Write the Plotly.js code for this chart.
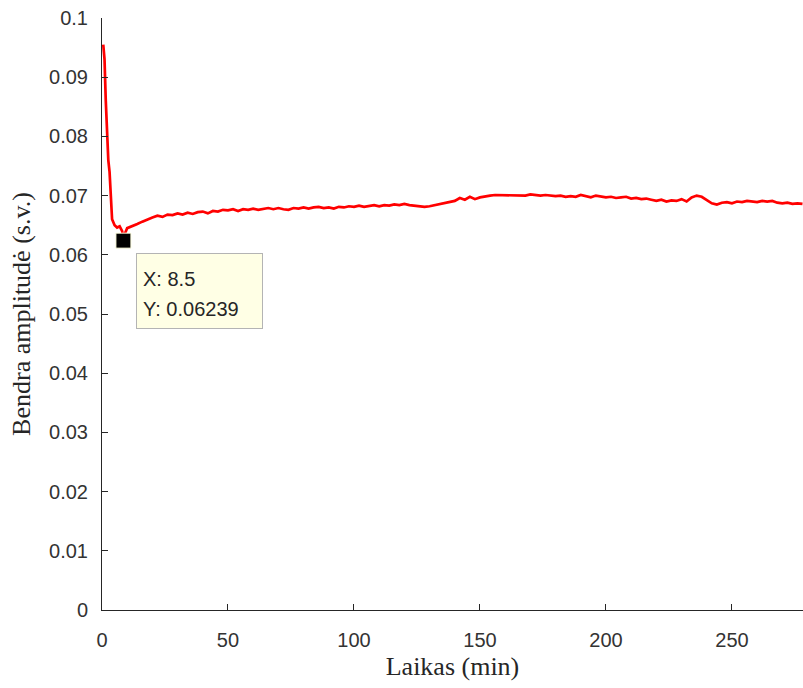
<!DOCTYPE html>
<html>
<head>
<meta charset="utf-8">
<script src="https://cdn.plot.ly/plotly-3.0.1.min.js"></script>
<style>html,body{margin:0;padding:0;background:#fff;}#chart{width:803px;height:688px;}</style>
</head>
<body>
<div id="chart"></div>
<script>
const timeMin = [0.5,1,1.5,2,2.5,3,3.5,4,5,6,7,8,8.5,9,10,12,14,16,18,20,22,24,26,28,30,32,34,36,38,40,42,44,46,48,50,52,54,56,58,60,62,64,66,68,70,72,74,76,78,80,82,84,86,88,90,92,94,96,98,100,102,104,106,108,110,112,114,116,118,120,122,124,126,128,130,132,134,136,138,140,142,144,146,148,150,152,154,156,158,160,162,164,166,168,170,172,174,176,178,180,182,184,186,188,190,192,194,196,198,200,202,204,206,208,210,212,214,216,218,220,222,224,226,228,230,232,234,236,238,240,242,244,246,248,250,252,254,256,258,260,262,264,266,268,270,272,274,276,278];
const amplitude = [0.0955,0.0930,0.0860,0.0800,0.0760,0.0740,0.0700,0.0660,0.0650,0.0646,0.0648,0.0640,0.06239,0.0635,0.0645,0.0648,0.0652,0.0656,0.0660,0.0663,0.0666,0.0664,0.0668,0.0667,0.0670,0.0668,0.0671,0.0669,0.0672,0.0673,0.0670,0.0674,0.0673,0.0676,0.0675,0.0677,0.0674,0.0677,0.0676,0.0678,0.0676,0.0678,0.0679,0.0677,0.0679,0.0677,0.0676,0.0679,0.0678,0.0680,0.0678,0.0680,0.0681,0.0679,0.0680,0.0678,0.0681,0.0680,0.0682,0.0681,0.0683,0.0681,0.0682,0.0684,0.0682,0.0684,0.0683,0.0685,0.0684,0.0686,0.0684,0.0683,0.0682,0.0681,0.0682,0.0684,0.0685,0.0687,0.0689,0.0691,0.0696,0.0693,0.0698,0.0694,0.0697,0.0699,0.0700,0.0701,0.0701,0.0700,0.0701,0.0700,0.0701,0.0700,0.0702,0.0701,0.0700,0.0701,0.0700,0.0699,0.0700,0.0698,0.0699,0.0698,0.0701,0.0699,0.0697,0.0700,0.0698,0.0697,0.0698,0.0696,0.0697,0.0698,0.0695,0.0696,0.0694,0.0695,0.0693,0.0691,0.0693,0.0690,0.0692,0.0691,0.0694,0.0690,0.0697,0.0700,0.0698,0.0693,0.0687,0.0685,0.0688,0.0689,0.0687,0.0690,0.0689,0.0691,0.0690,0.0689,0.0691,0.0690,0.0691,0.0688,0.0687,0.0688,0.0686,0.0687,0.0686];
const tipX = [8.5];
const tipY = [0.06239];
const xTicks = [0,50,100,150,200,250];
const yTicks = [0,0.01,0.02,0.03,0.04,0.05,0.06,0.07,0.08,0.09,0.1];
const yTickText = ['0','0.01','0.02','0.03','0.04','0.05','0.06','0.07','0.08','0.09','0.1'];

const axisColor = '#262626';
const tickFont = {family:'Liberation Sans, Arial, sans-serif', size:20, color:'#333333'};
const tipFont = {family:'Liberation Sans, Arial, sans-serif', size:20, color:'#262626'};
const titleFont = {family:'Liberation Serif, Times New Roman, serif', size:26, color:'#262626'};

const traces = [
  {x: timeMin, y: amplitude, mode:'lines', line:{color:'#ff0000', width:2.7}, hoverinfo:'skip', showlegend:false},
  {x: tipX, y: tipY, mode:'markers', marker:{symbol:'square', size:15, color:'#000000', line:{color:'#ffffe0', width:1}}, hoverinfo:'skip', showlegend:false}
];

const layout = {
  width:803, height:688,
  margin:{l:102, r:0, t:18, b:78},
  paper_bgcolor:'#ffffff', plot_bgcolor:'#ffffff',
  showlegend:false,
  xaxis:{
    range:[0,278.2], tickvals:xTicks, ticktext:xTicks.map(String),
    showgrid:false, zeroline:false, showline:true, linecolor:axisColor, linewidth:1,
    ticks:'inside', ticklen:6, tickcolor:axisColor, tickfont:tickFont, ticklabelstandoff:12,
    automargin:false,
    title:{text:'Laikas (min)', font:titleFont, standoff:6}
  },
  yaxis:{
    range:[0,0.1], tickvals:yTicks, ticktext:yTickText,
    showgrid:false, zeroline:false, showline:true, linecolor:axisColor, linewidth:1,
    ticks:'inside', ticklen:6, tickcolor:axisColor, tickfont:tickFont, ticklabelstandoff:9,
    automargin:false,
    title:{text:'Bendra amplitudė (s.v.)', font:titleFont, standoff:10}
  },
  annotations:[
    {x:tipX[0], y:tipY[0], xref:'x', yref:'y', text:' ', showarrow:false,
     xanchor:'center', yanchor:'middle', xshift:76, yshift:-50,
     width:125, height:74, bgcolor:'#ffffe5', bordercolor:'#b4b4b4', borderwidth:1, borderpad:0},
    {x:tipX[0], y:tipY[0], xref:'x', yref:'y', text:'X: ' + tipX[0], showarrow:false,
     xanchor:'left', yanchor:'middle', xshift:18, yshift:-38, font:tipFont},
    {x:tipX[0], y:tipY[0], xref:'x', yref:'y', text:'Y: ' + tipY[0], showarrow:false,
     xanchor:'left', yanchor:'middle', xshift:18, yshift:-68, font:tipFont}
  ]
};

Plotly.newPlot('chart', traces, layout, {staticPlot:true, displayModeBar:false});
</script>
</body>
</html>
